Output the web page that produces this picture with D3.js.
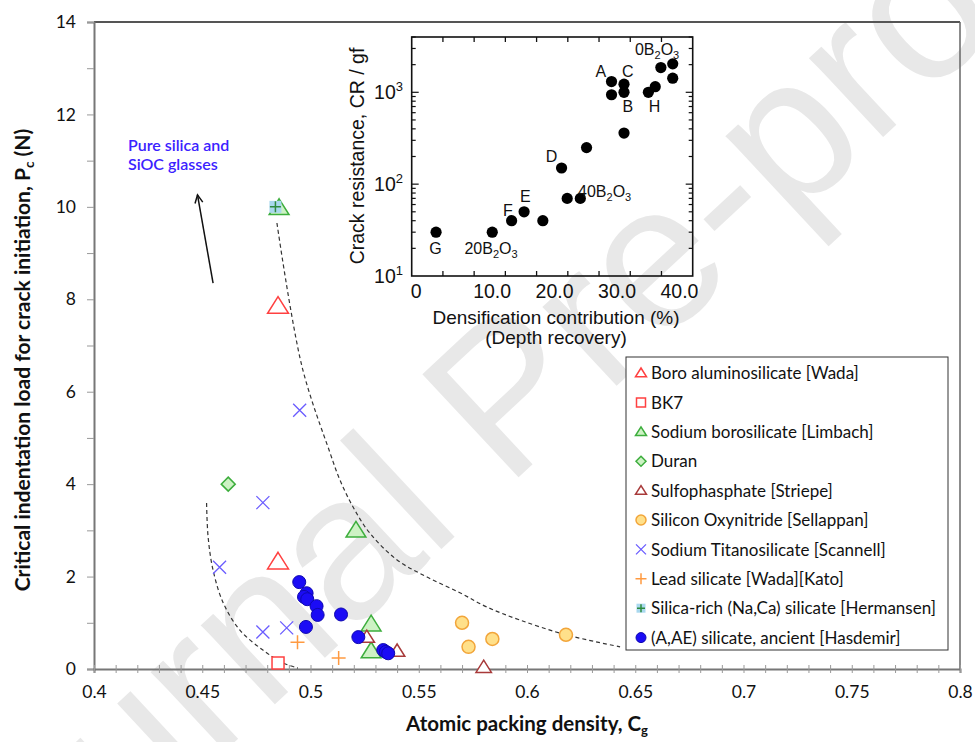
<!DOCTYPE html>
<html><head><meta charset="utf-8">
<script src="https://cdn.jsdelivr.net/npm/d3@7"></script>
<style>body{margin:0;background:#fff} svg{display:block}</style>
</head><body>
<script>
// ---------- DATA ----------
const boroAlumino = [[0.485,7.85],[0.485,2.32]];
const bk7 = [[0.485,0.13]];
const sodiumBoro = [[0.4855,9.98],[0.521,3.0],[0.528,0.97],[0.528,0.39]];
const duran = [[0.462,4.0]];
const sulfophosphate = [[0.526,0.69],[0.540,0.39],[0.580,0.04]];
const siliconOxynitride = [[0.570,1.0],[0.573,0.48],[0.584,0.65],[0.618,0.74]];
const sodiumTitano = [[0.495,5.6],[0.478,3.6],[0.458,2.2],[0.478,0.8],[0.489,0.89]];
const leadSilicate = [[0.494,0.58],[0.513,0.24]];
const silicaRich = [[0.4838,10.0]];
const hasdemir = [[0.4948,1.88],[0.4982,1.64],[0.497,1.56],[0.4985,1.51],[0.5028,1.36],[0.5033,1.17],[0.4979,0.91],[0.5141,1.18],[0.5221,0.69],[0.5336,0.41],[0.5348,0.37],[0.5359,0.34]];

const outerGuide = [[0.4845,9.65],[0.4961,6.54],[0.509,4.68],[0.5136,4.09],[0.5196,3.51],[0.5274,2.94],[0.540,2.36],[0.5538,1.99],[0.569,1.65],[0.5815,1.34],[0.5967,1.06],[0.618,0.74],[0.643,0.48]];
const innerGuide = [[0.452,3.59],[0.4527,2.86],[0.455,2.14],[0.4597,1.43],[0.4674,0.84],[0.478,0.41],[0.4873,0.13],[0.4942,0.02]];
const arrowFrom = [0.455,8.35], arrowTo = [0.4478,10.26];

const xTickLabels = ["0.4","0.45","0.5","0.55","0.6","0.65","0.7","0.75","0.8"];
const yTickLabels = ["0","2","4","6","8","10","12","14"];

const legendLabels = ["Boro aluminosilicate [Wada]","BK7","Sodium borosilicate [Limbach]","Duran","Sulfophasphate [Striepe]","Silicon Oxynitride [Sellappan]","Sodium Titanosilicate [Scannell]","Lead silicate [Wada][Kato]","Silica-rich (Na,Ca) silicate [Hermansen]","(A,AE) silicate, ancient [Hasdemir]"];

// inset
const insetX = [3.9,12.9,16.0,18.0,21.0,24.9,27.0,24.0,28.0,34.0,32.0,32.0,34.0,34.0,37.9,39.0,39.9,41.8,41.8];
const insetY = [30,30,40,50,40,70,70,150,250,360,1310,940,1225,1000,1000,1150,1860,2040,1425];
const insetLabels = [["A",30.3,1710],["C",34.6,1700],["B",34.6,711],["H",38.9,711],["D",22.4,203],["E",18.2,73],["F",15.4,52],["G",3.8,20]];
const insetSubLabels = [["0","2","3",39.3,2950],["20","2","3",12.7,20],["40","2","3",30.9,83]];
const insetXTicks = [0,10,20,30,40];
const insetXTickLabels = ["0","10.0","20.0","30.0","40.0"];
const insetYTicks = [10,100,1000];
const insetYExp = ["1","2","3"];

// ---------- SETUP ----------
const W=975,H=742;
const svg=d3.select("body").append("svg").attr("width",W).attr("height",H)
  .style("font-family","Lato, 'Open Sans', sans-serif");

// watermark
svg.append("text").attr("transform","translate(552,446) rotate(-43)")
  .attr("text-anchor","middle").attr("font-family","'Liberation Sans', Arial, sans-serif")
  .attr("font-size",205).attr("fill","#e8e8e8").text("Journal Pre-proof");

const x=d3.scaleLinear().domain([0.4,0.8]).range([94,960]);
const y=d3.scaleLinear().domain([0,14]).range([669,22]);

// frame
svg.append("line").attr("x1",x(0.4)).attr("x2",x(0.8)).attr("y1",y(14)).attr("y2",y(14)).attr("stroke","#555").attr("stroke-width",2);
svg.append("line").attr("x1",x(0.8)).attr("x2",x(0.8)).attr("y1",y(14)).attr("y2",y(0)).attr("stroke","#666").attr("stroke-width",1.5);

// y axis
const yAx = svg.append("g").attr("transform",`translate(${x(0.4)},0)`)
  .call(d3.axisLeft(y).tickValues(d3.range(0,15)).tickSize(7).tickPadding(11)
    .tickFormat(d=> d%2===0 ? yTickLabels[d/2] : ""));
yAx.select(".domain").attr("stroke","#777").attr("stroke-width",2);
yAx.selectAll(".tick line").attr("stroke","#999").attr("stroke-width",1);
yAx.selectAll("text").attr("font-size",17.5).attr("fill","#111").attr("font-family","Lato, sans-serif");

// x axis
const xAx = svg.append("g").attr("transform",`translate(0,${y(0)})`)
  .call(d3.axisBottom(x).tickValues(d3.range(0,41).map(i=>0.4+i*0.01)).tickSize(4).tickPadding(13)
    .tickFormat((d,i)=> i%5===0 ? xTickLabels[i/5] : ""));
xAx.select(".domain").attr("stroke","#777").attr("stroke-width",2);
xAx.selectAll(".tick line").attr("y1",-4).attr("stroke","#999").attr("stroke-width",1);
xAx.selectAll("text").attr("font-size",17.5).attr("fill","#111").attr("font-family","Lato, sans-serif");

// axis titles
const xt = svg.append("text").attr("x",527).attr("y",731).attr("text-anchor","middle")
  .attr("font-size",20.5).attr("font-weight","bold").attr("fill","#111");
xt.append("tspan").text("Atomic packing density, C");
xt.append("tspan").attr("font-size",13).attr("dy",4).text("g");

const yt = svg.append("text").attr("transform",`translate(30,${360}) rotate(-90)`).attr("text-anchor","middle")
  .attr("font-size",21).attr("font-weight","bold").attr("fill","#111");
yt.append("tspan").text("Critical indentation load for crack initiation, P");
yt.append("tspan").attr("font-size",13.5).attr("dy",4).text("c");
yt.append("tspan").attr("dy",-4).text(" (N)");

// guides
const line=d3.line().x(d=>x(d[0])).y(d=>y(d[1])).curve(d3.curveCatmullRom);
[outerGuide,innerGuide].forEach(g=>svg.append("path").attr("d",line(g)).attr("fill","none")
  .attr("stroke","#333").attr("stroke-width",1.2).attr("stroke-dasharray","4,3"));

// arrow
{
  const x1=x(arrowFrom[0]),y1=y(arrowFrom[1]),x2=x(arrowTo[0]),y2=y(arrowTo[1]);
  svg.append("line").attr("x1",x1).attr("y1",y1).attr("x2",x2).attr("y2",y2).attr("stroke","#111").attr("stroke-width",1.5);
  const a=Math.atan2(y2-y1,x2-x1), L=9, s=0.45;
  svg.append("path").attr("d",`M${x2-L*Math.cos(a-s)},${y2-L*Math.sin(a-s)}L${x2},${y2}L${x2-L*Math.cos(a+s)},${y2-L*Math.sin(a+s)}`)
    .attr("fill","none").attr("stroke","#111").attr("stroke-width",1.5);
}
svg.append("text").attr("x",128).attr("y",151).attr("font-size",16).attr("font-weight",600).attr("fill","#3b22ff").text("Pure silica and");
svg.append("text").attr("x",128).attr("y",170).attr("font-size",16).attr("font-weight",600).attr("fill","#3b22ff").text("SiOC glasses");

// marker shapes
const tri = s => `M0,${-s}L${s*1.1},${s*0.75}L${-s*1.1},${s*0.75}Z`;
const sq = s => `M${-s},${-s}H${s}V${s}H${-s}Z`;
const dia = s => `M0,${-s}L${s},0L0,${s}L${-s},0Z`;
const xs = s => `M${-s},${-s}L${s},${s}M${-s},${s}L${s},${-s}`;
const pl = s => `M${-s},0H${s}M0,${-s}V${s}`;
const circ = r => `M${r},0A${r},${r} 0 1,1 ${-r},0A${r},${r} 0 1,1 ${r},0Z`;

const series = [
  {data:boroAlumino, big:[tri(9.5)], small:[tri(5)], stroke:"#ff4040", fill:"#fff", sw:1.5},
  {data:bk7, big:[sq(6)], small:[sq(4.5)], stroke:"#ff4040", fill:"#fff", sw:1.5},
  {data:sodiumBoro, big:[tri(9)], small:[tri(5)], stroke:"#3dae3d", fill:"#cdf2c4", sw:1.5},
  {data:duran, big:[dia(7)], small:[dia(5)], stroke:"#3dae3d", fill:"#cdf2c4", sw:1.5},
  {data:sulfophosphate, big:[tri(7)], small:[tri(5)], stroke:"#a83a3a", fill:"#fff", sw:1.5},
  {data:siliconOxynitride, big:[circ(6.5)], small:[circ(5)], stroke:"#f2a53a", fill:"#ffe08a", sw:1.5},
  {data:sodiumTitano, big:[xs(6.5)], small:[xs(5)], stroke:"#6a5cff", fill:"none", sw:1.3},
  {data:leadSilicate, big:[pl(7)], small:[pl(5.5)], stroke:"#ff9a40", fill:"none", sw:1.5},
  {data:silicaRich, special:true},
  {data:hasdemir, big:[circ(6.5)], small:[circ(5)], stroke:"#0f08b0", fill:"#1b0cf5", sw:1}
];

function drawSym(g, s, big){
  if(s.special){
    const r = big?6:4.5;
    g.append("path").attr("d",sq(r)).attr("fill","#a9d8ee");
    g.append("path").attr("d",pl(r-0.5)).attr("stroke","#2e8b3e").attr("stroke-width",1.5).attr("fill","none");
    return;
  }
  (big?s.big:s.small).forEach(p=>g.append("path").attr("d",p).attr("fill",s.fill).attr("stroke",s.stroke).attr("stroke-width",s.sw));
}

series.forEach(s=>{
  s.data.forEach(d=>{
    const g=svg.append("g").attr("transform",`translate(${x(d[0])},${y(d[1])})`);
    drawSym(g,s,true);
  });
});

// legend
const lg = svg.append("g");
lg.append("rect").attr("x",626).attr("y",357).attr("width",322).attr("height",293).attr("fill","#fff").attr("stroke","#333").attr("stroke-width",1);
legendLabels.forEach((lab,i)=>{
  const cy=373+i*29.4;
  const g=lg.append("g").attr("transform",`translate(641,${cy})`);
  drawSym(g,series[i],false);
  lg.append("text").attr("x",651).attr("y",cy).attr("dy","0.36em").attr("font-size",17).attr("fill","#111").text(lab);
});

// ---------- INSET ----------
const ix=d3.scaleLinear().domain([0,45]).range([411.7,692.7]);
const iy=d3.scaleLog().domain([10,4000]).range([276,37]);
const ins=svg.append("g").attr("font-family","'Liberation Sans', Arial, sans-serif");
ins.append("rect").attr("x",ix(0)).attr("y",iy(4000)).attr("width",ix(45)-ix(0)).attr("height",iy(10)-iy(4000))
  .attr("fill","none").attr("stroke","#111").attr("stroke-width",1.6);
// x ticks
d3.range(5,45,5).forEach(v=>{
  ins.append("line").attr("x1",ix(v)).attr("x2",ix(v)).attr("y1",iy(10)).attr("y2",iy(10)-5).attr("stroke","#111").attr("stroke-width",1.3);
  ins.append("line").attr("x1",ix(v)).attr("x2",ix(v)).attr("y1",iy(4000)).attr("y2",iy(4000)+5).attr("stroke","#111").attr("stroke-width",1.3);
});
insetXTicks.forEach((v,i)=>ins.append("text").attr("x",ix(v)-1).attr("y",298).attr("font-size",19.5).attr("fill","#111").text(insetXTickLabels[i]));
// y ticks
const logTicks=[];
[10,100,1000].forEach(b=>{for(let k=1;k<10;k++){const v=b*k; if(v<=4000) logTicks.push(v);}});
logTicks.forEach(v=>{
  const major = [10,100,1000].includes(v);
  const L = major?7:4;
  if(v===10) return;
  ins.append("line").attr("x1",ix(0)).attr("x2",ix(0)+L).attr("y1",iy(v)).attr("y2",iy(v)).attr("stroke","#111").attr("stroke-width",1.2);
  ins.append("line").attr("x1",ix(45)).attr("x2",ix(45)-L).attr("y1",iy(v)).attr("y2",iy(v)).attr("stroke","#111").attr("stroke-width",1.2);
});
insetYTicks.forEach((v,i)=>{
  const t=ins.append("text").attr("x",403).attr("y",iy(v)).attr("dy","0.36em").attr("text-anchor","end").attr("font-size",19.5).attr("fill","#111");
  t.append("tspan").text("10");
  t.append("tspan").attr("font-size",13).attr("dy",-8).text(insetYExp[i]);
});
// titles
ins.append("text").attr("transform","translate(364,156) rotate(-90)").attr("text-anchor","middle").attr("font-size",19.5).attr("fill","#111").text("Crack resistance, CR / gf");
ins.append("text").attr("x",556).attr("y",324).attr("text-anchor","middle").attr("font-size",19).attr("fill","#111").text("Densification contribution (%)");
ins.append("text").attr("x",556).attr("y",344).attr("text-anchor","middle").attr("font-size",19).attr("fill","#111").text("(Depth recovery)");
// points
insetX.forEach((v,i)=>ins.append("circle").attr("cx",ix(v)).attr("cy",iy(insetY[i])).attr("r",5.6).attr("fill","#000"));
insetLabels.forEach(l=>ins.append("text").attr("x",ix(l[1])).attr("y",iy(l[2])).attr("dy","0.36em").attr("text-anchor","middle").attr("font-size",16).attr("fill","#111").text(l[0]));
insetSubLabels.forEach(l=>{
  const t=ins.append("text").attr("x",ix(l[3])).attr("y",iy(l[4])).attr("dy","0.36em").attr("text-anchor","middle").attr("font-size",16).attr("fill","#111");
  t.append("tspan").text(l[0]+"B");
  t.append("tspan").attr("font-size",11).attr("dy",4).text(l[1]);
  t.append("tspan").attr("dy",-4).text("O");
  t.append("tspan").attr("font-size",11).attr("dy",4).text(l[2]);
});
</script>
</body></html>
